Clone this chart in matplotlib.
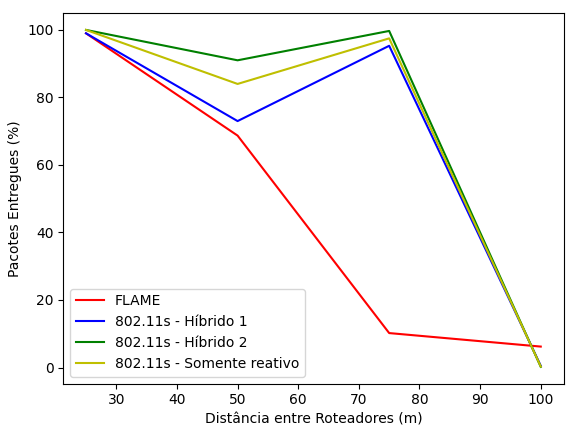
import matplotlib
matplotlib.use('Agg')
from matplotlib import pyplot as plt

distancias = [25, 50, 75, 100]
flame = [99.0, 68.7, 10.2, 6.2]
hibrido1 = [99.0, 73.0, 95.3, 0.5]
hibrido2 = [100.0, 91.0, 99.7, 0.2]
reativo = [100.0, 84.0, 97.5, 0.3]

fig = plt.figure(figsize=(5.75, 4.36), dpi=100)
plt.plot(distancias, flame, 'r', label='FLAME')
plt.plot(distancias, hibrido1, 'b', label='802.11s - Híbrido 1')
plt.plot(distancias, hibrido2, 'g', label='802.11s - Híbrido 2')
plt.plot(distancias, reativo, 'y', label='802.11s - Somente reativo')
plt.xlabel('Distância entre Roteadores (m)')
plt.ylabel('Pacotes Entregues (%)')
plt.legend(loc='lower left')
plt.subplots_adjust(left=0.11, right=0.98, top=0.97, bottom=0.12)
plt.savefig('out.png', dpi=100)
